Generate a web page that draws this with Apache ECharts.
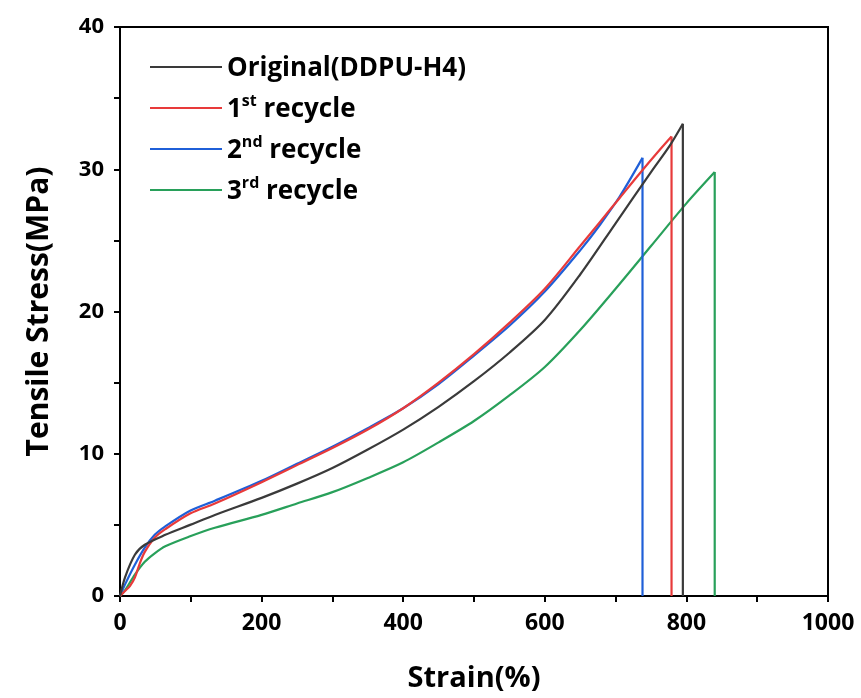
<!DOCTYPE html>
<html>
<head>
<meta charset="utf-8">
<script src="https://cdn.jsdelivr.net/npm/echarts@6/dist/echarts.min.js"></script>
<style>html,body{margin:0;padding:0;background:#fff;}#c{width:861px;height:698px;}</style>
</head>
<body>
<div id="c"></div>
<script>
const seriesNames = ['Original(DDPU-H4)', '1st recycle', '2nd recycle', '3rd recycle'];
const original = [[0,0],[7,1.3],[21,2.9],[35,3.6],[64,4.3],[99,5.0],[134,5.7],[200,6.9],[250,7.9],[300,9.0],[350,10.3],[400,11.7],[450,13.3],[500,15.1],[550,17.1],[600,19.4],[650,22.6],[700,26.2],[750,29.8],[777,31.7],[795,33.2]];
const recycle1 = [[0,0],[7,0.35],[14,0.7],[21,1.3],[28,2.3],[35,3.1],[49,4.1],[64,4.7],[99,5.8],[134,6.5],[200,8.0],[250,9.2],[300,10.4],[350,11.7],[400,13.2],[450,15.0],[500,17.0],[550,19.2],[600,21.6],[650,24.6],[678,26.3],[706,28.0],[734,29.7],[763,31.4],[779,32.3]];
const recycle2 = [[0,0],[7,0.8],[21,2.2],[35,3.4],[49,4.3],[64,4.9],[99,6.0],[134,6.7],[200,8.1],[250,9.3],[300,10.5],[350,11.8],[400,13.2],[450,14.9],[500,16.9],[550,19.0],[600,21.4],[650,24.3],[678,26.1],[706,28.1],[738,30.8]];
const recycle3 = [[0,0],[7,0.4],[21,1.5],[35,2.4],[49,3.0],[64,3.5],[99,4.2],[134,4.8],[200,5.7],[250,6.5],[300,7.3],[350,8.3],[400,9.4],[450,10.8],[500,12.3],[550,14.1],[600,16.1],[650,18.7],[700,21.6],[750,24.6],[800,27.6],[840,29.8]];
// break strain at which each sample failed (stress drops to 0)
const breakStrain = [795, 779, 738, 840];
const colors = ['#3a3a3a', '#e83a3a', '#1f5fd8', '#28a05a'];
const xTicks = [0, 200, 400, 600, 800, 1000];
const yTicks = [0, 10, 20, 30, 40];

const font = 'Open Sans';
const chart = echarts.init(document.getElementById('c'));
const data = [original, recycle1, recycle2, recycle3];
const legendFmt = {
  'Original(DDPU-H4)': '{t|Original(DDPU-H4)}',
  '1st recycle': '{t|1}{s|st}{t| recycle}',
  '2nd recycle': '{t|2}{s|nd}{t| recycle}',
  '3rd recycle': '{t|3}{s|rd}{t| recycle}'
};
const series = [];
seriesNames.forEach((n, i) => {
  const d = data[i];
  const last = d[d.length - 1];
  series.push({
    name: n, type: 'line', data: d, symbol: 'none', smooth: 0.3,
    lineStyle: {color: colors[i], width: 2.2}, itemStyle: {color: colors[i]}, z: 10 - i
  });
  series.push({
    name: n, type: 'line', data: [last, [breakStrain[i], 0]], symbol: 'none', smooth: false,
    lineStyle: {color: colors[i], width: 2.2}, itemStyle: {color: colors[i]}, z: 10 - i
  });
});
chart.setOption({
  animation: false,
  backgroundColor: '#fff',
  grid: {left: 120, right: 33, top: 27, bottom: 100, show: true, borderColor: '#000', borderWidth: 2, backgroundColor: 'transparent'},
  legend: {
    orient: 'vertical', left: 145, top: 51, itemWidth: 72, itemHeight: 14, itemGap: 11,
    icon: 'path://M0,6 L72,6 L72,8 L0,8 Z',
    data: seriesNames,
    formatter: n => legendFmt[n],
    textStyle: {
      color: '#000',
      rich: {
        t: {fontFamily: font, fontWeight: 'bold', fontSize: 26, color: '#000', lineHeight: 30, verticalAlign: 'bottom'},
        s: {fontFamily: font, fontWeight: 'bold', fontSize: 16, color: '#000', lineHeight: 30, verticalAlign: 'top'}
      }
    }
  },
  xAxis: {
    type: 'value', min: xTicks[0], max: xTicks[xTicks.length-1], interval: 200,
    name: 'Strain(%)', nameLocation: 'middle', nameGap: 68,
    nameTextStyle: {fontFamily: font, fontWeight: 'bold', fontSize: 29, color: '#000'},
    axisLine: {lineStyle: {color: '#000', width: 2}},
    axisTick: {show: true, length: 6, lineStyle: {color: '#000', width: 2}},
    minorTick: {show: true, splitNumber: 2, length: 6, lineStyle: {color: '#000', width: 2}},
    axisLabel: {fontFamily: font, fontWeight: 'bold', fontSize: 23, color: '#000', margin: 16, formatter: v => String(v)},
    splitLine: {show: false}
  },
  yAxis: {
    type: 'value', min: yTicks[0], max: yTicks[yTicks.length-1], interval: 10,
    name: 'Tensile Stress(MPa)', nameLocation: 'middle', nameGap: 66,
    nameTextStyle: {fontFamily: font, fontWeight: 'bold', fontSize: 30, color: '#000'},
    axisLine: {lineStyle: {color: '#000', width: 2}},
    axisTick: {show: true, length: 6, lineStyle: {color: '#000', width: 2}},
    minorTick: {show: true, splitNumber: 2, length: 6, lineStyle: {color: '#000', width: 2}},
    axisLabel: {fontFamily: font, fontWeight: 'bold', fontSize: 22, color: '#000', margin: 16},
    splitLine: {show: false}
  },
  series: series
});
</script>
</body>
</html>
